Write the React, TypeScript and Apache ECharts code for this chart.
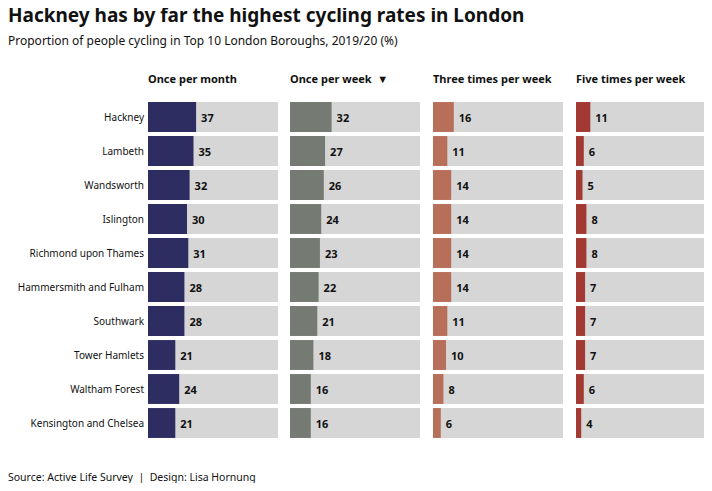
import { useEffect, useRef } from 'react'
import * as echarts from 'echarts'

const boroughs = [
  'Hackney',
  'Lambeth',
  'Wandsworth',
  'Islington',
  'Richmond upon Thames',
  'Hammersmith and Fulham',
  'Southwark',
  'Tower Hamlets',
  'Waltham Forest',
  'Kensington and Chelsea',
]
const oncePerMonth = [37, 35, 32, 30, 31, 28, 28, 21, 24, 21]
const oncePerWeek = [32, 27, 26, 24, 23, 22, 21, 18, 16, 16]
const threeTimesPerWeek = [16, 11, 14, 14, 14, 14, 11, 10, 8, 6]
const fiveTimesPerWeek = [11, 6, 5, 8, 8, 7, 7, 7, 6, 4]

const panelTitles = ['Once per month', 'Once per week  ▼', 'Three times per week', 'Five times per week']
const panelColors = ['#2e2d62', '#757a72', '#b86f5a', '#a23a33']
const panelData = [oncePerMonth, oncePerWeek, threeTimesPerWeek, fiveTimesPerWeek]

const font = '"Noto Sans", sans-serif'

export default function App() {
  const chartRef = useRef<HTMLDivElement>(null)

  useEffect(() => {
    if (!chartRef.current) return
    const chart = echarts.init(chartRef.current, undefined, { renderer: 'svg' })

    const lefts = [148, 290, 433, 576]
    const width = 130

    const option: any = {
      animation: false,
      textStyle: { fontFamily: font },
      grid: lefts.map((l) => ({ left: l, width, top: 100, height: 340 })),
      xAxis: lefts.map((_, i) => ({
        gridIndex: i,
        type: 'value',
        min: 0,
        max: 100,
        show: false,
      })),
      yAxis: lefts.map((_, i) => ({
        gridIndex: i,
        type: 'category',
        data: boroughs,
        inverse: true,
        axisLine: { show: false },
        axisTick: { show: false },
        axisLabel: {
          show: i === 0,
          fontSize: 10,
          color: '#111',
          margin: 4,
          fontFamily: font,
        },
      })),
      series: panelData.map((d, i) => ({
        type: 'bar',
        xAxisIndex: i,
        yAxisIndex: i,
        data: d,
        barCategoryGap: '12%',
        itemStyle: { color: panelColors[i] },
        showBackground: true,
        backgroundStyle: { color: '#d6d6d6' },
        label: {
          show: true,
          position: 'right',
          distance: 5,
          fontSize: 11,
          fontWeight: 'bold',
          color: '#111',
          fontFamily: font,
        },
      })),
      graphic: [
        {
          type: 'text',
          left: 8,
          top: 5,
          style: {
            text: 'Hackney has by far the highest cycling rates in London',
            fontSize: 19,
            fontWeight: 'bold',
            fill: '#111',
            fontFamily: font,
          },
        },
        {
          type: 'text',
          left: 8,
          top: 34,
          style: {
            text: 'Proportion of people cycling in Top 10 London Boroughs, 2019/20 (%)',
            fontSize: 12,
            fill: '#111',
            fontFamily: font,
          },
        },
        ...panelTitles.map((t, i) => ({
          type: 'text',
          left: lefts[i],
          top: 73,
          style: { text: t, fontSize: 11, fontWeight: 'bold', fill: '#111', fontFamily: font },
        })),
        {
          type: 'text',
          left: 8,
          top: 471,
          style: {
            text: 'Source: Active Life Survey  |  Design: Lisa Hornung',
            fontSize: 10.5,
            fill: '#111',
            fontFamily: font,
          },
        },
      ],
    }

    chart.setOption(option)
    return () => chart.dispose()
  }, [])

  return <div ref={chartRef} style={{ width: 712, height: 491, margin: -8 }} />
}
